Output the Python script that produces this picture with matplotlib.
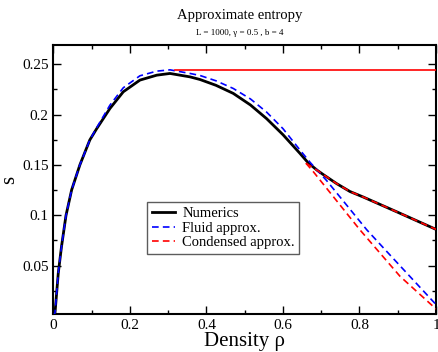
import matplotlib
matplotlib.use('Agg')
import matplotlib.pyplot as plt
from matplotlib.ticker import MultipleLocator, FuncFormatter

plt.rcParams['font.family'] = ['Liberation Serif', 'DejaVu Serif']

# values
rho_num = [0.0, 0.004, 0.0083, 0.0126, 0.021, 0.0327, 0.0475, 0.069, 0.095, 0.113,
           0.1477, 0.1825, 0.226, 0.270, 0.3046, 0.357, 0.383, 0.425, 0.470, 0.515,
           0.557, 0.60, 0.644, 0.666, 0.69, 0.705, 0.74, 0.775, 0.81, 0.90, 1.0]
s_num = [0.0, 0.0032, 0.023, 0.0428, 0.069, 0.0998, 0.1252, 0.150, 0.1748, 0.186,
         0.2061, 0.2226, 0.2342, 0.2391, 0.2408, 0.2374, 0.2348, 0.229, 0.221, 0.2095,
         0.196, 0.180, 0.1616, 0.152, 0.1445, 0.1405, 0.1315, 0.1236, 0.1181, 0.1030, 0.086]

rho_fluid = [0.0, 0.004, 0.0083, 0.0126, 0.021, 0.0327, 0.0475, 0.069, 0.095, 0.113,
             0.1477, 0.1825, 0.226, 0.270, 0.3046, 0.357, 0.383, 0.425, 0.470, 0.515,
             0.557, 0.60, 0.644, 0.671, 0.714, 0.819, 0.867, 1.0]
s_fluid = [0.0, 0.0032, 0.023, 0.0428, 0.069, 0.0998, 0.1252, 0.150, 0.1748, 0.187,
           0.2094, 0.2266, 0.2385, 0.2431, 0.2444, 0.2408, 0.2388, 0.2335, 0.2259, 0.2155,
           0.2025, 0.186, 0.165, 0.1525, 0.1345, 0.0856, 0.0658, 0.0114]

rho_cond_hi = [0.660, 0.69, 0.705, 0.74, 0.775, 0.81, 0.90, 1.0]
s_cond_hi = [0.1517, 0.1445, 0.1405, 0.1315, 0.1236, 0.1181, 0.1030, 0.086]
rho_cond_lo = [0.660, 0.679, 0.801, 0.906, 1.0]
s_cond_lo = [0.1517, 0.1434, 0.0856, 0.0394, 0.007]

rho_flat = [0.318, 1.0]
s_flat = [0.2444, 0.2444]

fig = plt.figure(figsize=(4.38, 3.52), dpi=100)
ax = fig.add_axes([0.1221, 0.108, 0.8733, 0.764])

dash = (0, (4, 2.5))
ax.plot(rho_num, s_num, color='black', lw=2.0, label='Numerics', zorder=2)
ax.plot(rho_fluid, s_fluid, color='blue', lw=1.2, ls=dash, label='Fluid approx.', zorder=3)
ax.plot(rho_flat, s_flat, color='red', lw=1.2, zorder=3)
ax.plot(rho_cond_hi, s_cond_hi, color='red', lw=1.2, ls=dash, label='Condensed approx.', zorder=4)
ax.plot(rho_cond_lo, s_cond_lo, color='red', lw=1.2, ls=dash, zorder=4)

ax.set_xlim(0, 1)
ax.set_ylim(0.002, 0.269)
ax.xaxis.set_major_locator(MultipleLocator(0.2))
ax.xaxis.set_minor_locator(MultipleLocator(0.1))
ax.yaxis.set_major_locator(MultipleLocator(0.05))
ax.yaxis.set_minor_locator(MultipleLocator(0.025))
fmt = FuncFormatter(lambda v, p: '%g' % round(v, 3))
ax.xaxis.set_major_formatter(fmt)
ax.yaxis.set_major_formatter(fmt)
ax.tick_params(which='both', direction='in', top=True, right=True, width=1.0, labelsize=11)
ax.tick_params(which='major', length=6)
ax.tick_params(which='minor', length=3)
for sp in ax.spines.values():
    sp.set_linewidth(1.5)

ax.set_xlabel('Density ρ', fontsize=15, labelpad=0)
ax.set_ylabel('s', fontsize=15, labelpad=2)

fig.text(0.547, 0.955, 'Approximate entropy', ha='center', va='center', fontsize=10.5)
fig.text(0.547, 0.905, 'L = 1000, γ = 0.5 , b = 4', ha='center', va='center', fontsize=6.5)

leg = ax.legend(loc='upper left', bbox_to_anchor=(0.245, 0.415), fontsize=10.5, frameon=True,
                fancybox=False, edgecolor='#333333', handlelength=1.6, handletextpad=0.5,
                borderpad=0.3, labelspacing=0.1, borderaxespad=0)
leg.get_frame().set_linewidth(1.0)

fig.savefig('out.png', dpi=100)
